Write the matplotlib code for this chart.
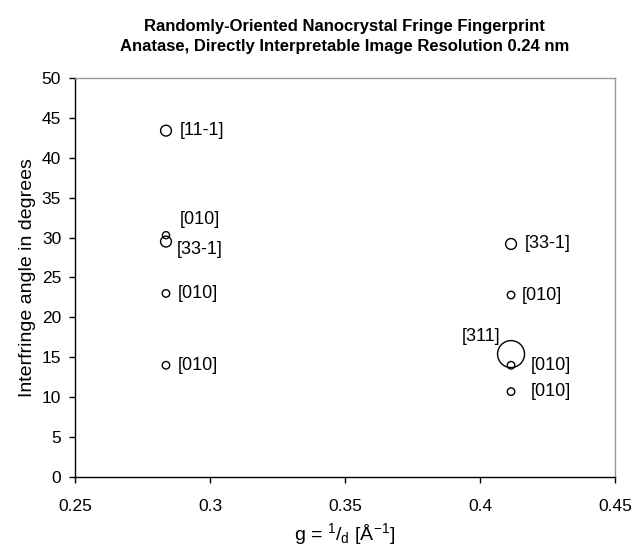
import matplotlib
matplotlib.use("Agg")
import matplotlib.pyplot as plt

plt.rcParams['font.family'] = ['Liberation Sans', 'DejaVu Sans']
plt.rcParams['mathtext.fontset'] = 'custom'
plt.rcParams['mathtext.rm'] = 'Liberation Sans'
plt.rcParams['mathtext.it'] = 'Liberation Sans'

# data
g_values = [0.2837, 0.2837, 0.2837, 0.2837, 0.2837,
            0.4115, 0.4115, 0.4115, 0.4115, 0.4115]
angles = [43.4, 30.3, 29.5, 23.0, 14.0,
          29.2, 22.8, 15.4, 14.0, 10.7]
bubble_sizes = [2.1, 0.9, 2.1, 1.0, 1.0,
                2.1, 1.0, 13.0, 1.0, 1.0]
labels = ['[11-1]', '[010]', '[33-1]', '[010]', '[010]',
          '[33-1]', '[010]', '[311]', '[010]', '[010]']
# label offsets in points (dx, dy) and horizontal alignment
label_offsets = [(10, 0), (10, 11), (8, -6), (8.6, 0), (8.6, 0),
                 (10, 0), (8, 0), (-8, 13), (14, 0), (14, 0)]
label_ha = ['left', 'left', 'left', 'left', 'left',
            'left', 'left', 'right', 'left', 'left']

x_ticks = [0.25, 0.3, 0.35, 0.4, 0.45]
x_tick_labels = ['0.25', '0.3', '0.35', '0.4', '0.45']
y_ticks = list(range(0, 51, 5))

fig = plt.figure(figsize=(6.34, 5.48), dpi=100)
ax = fig.add_axes([0.1183, 0.1296, 0.8517, 0.7281])

ax.scatter(g_values, angles, s=[29 * b for b in bubble_sizes],
           facecolors='none', edgecolors='black', linewidths=1.0, zorder=3)

for x, y, t, off, ha in zip(g_values, angles, labels, label_offsets, label_ha):
    ax.annotate(t, (x, y), xytext=off, textcoords='offset points',
                ha=ha, va='center', fontsize=13)

ax.set_xlim(0.25, 0.45)
ax.set_ylim(0, 50)
ax.set_xticks(x_ticks)
ax.set_xticklabels(x_tick_labels)
ax.set_yticks(y_ticks)
ax.tick_params(axis='both', labelsize=12.5, direction='out', length=4, width=1, color='black')
ax.tick_params(axis='x', pad=12)
ax.tick_params(axis='y', pad=6)

ax.spines['left'].set_color('black')
ax.spines['bottom'].set_color('black')
ax.spines['top'].set_color('#999999')
ax.spines['right'].set_color('#999999')
for sp in ax.spines.values():
    sp.set_linewidth(1.0)

ax.set_xlabel(r'g = $^{1}/_{\mathrm{d}}$ [Å$^{-1}$]', fontsize=14, labelpad=5)
ax.set_ylabel('Interfringe angle in degrees', fontsize=14, labelpad=4)

fig.text(0.544, 0.934, 'Randomly-Oriented Nanocrystal Fringe Fingerprint\n'
         'Anatase, Directly Interpretable Image Resolution 0.24 nm',
         ha='center', va='center', fontsize=12, fontweight='bold', linespacing=1.4)

fig.savefig('out.png', dpi=100)
